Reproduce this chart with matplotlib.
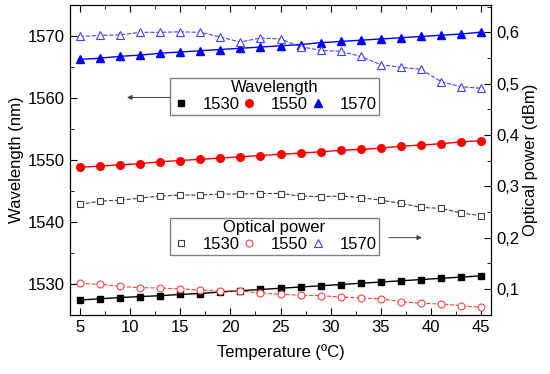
import numpy as np
import matplotlib
matplotlib.use('Agg')
import matplotlib.pyplot as plt
from matplotlib.lines import Line2D
from matplotlib.ticker import MultipleLocator, FuncFormatter

plt.rcParams['font.family'] = ['Liberation Sans', 'DejaVu Sans']
plt.rcParams['font.size'] = 12

temp = [5, 7, 9, 11, 13, 15, 17, 19, 21, 23, 25, 27, 29, 31, 33, 35, 37, 39, 41, 43, 45]

# wavelength (nm), left axis
wl_1530 = [1527.4, 1527.6, 1527.8, 1527.96, 1528.1, 1528.3, 1528.45, 1528.7, 1528.9, 1529.1, 1529.3,
           1529.5, 1529.7, 1529.9, 1530.1, 1530.3, 1530.5, 1530.7, 1530.9, 1531.1, 1531.3]
wl_1550 = [1548.8, 1549.0, 1549.2, 1549.4, 1549.7, 1549.9, 1550.1, 1550.3, 1550.5, 1550.7, 1550.9,
           1551.1, 1551.3, 1551.55, 1551.7, 1551.9, 1552.2, 1552.4, 1552.6, 1552.9, 1553.1]
wl_1570 = [1566.2, 1566.4, 1566.7, 1566.9, 1567.2, 1567.4, 1567.6, 1567.8, 1568.0, 1568.2, 1568.4,
           1568.6, 1568.9, 1569.1, 1569.3, 1569.5, 1569.7, 1569.9, 1570.1, 1570.3, 1570.6]

# optical power (dBm), right axis
op_1530 = [0.265, 0.271, 0.273, 0.277, 0.281, 0.283, 0.283, 0.285, 0.285, 0.286, 0.286,
           0.281, 0.280, 0.281, 0.278, 0.273, 0.267, 0.259, 0.257, 0.248, 0.243]
op_1550 = [0.111, 0.109, 0.105, 0.1025, 0.102, 0.100, 0.098, 0.096, 0.096, 0.092, 0.0897,
           0.088, 0.087, 0.0844, 0.0825, 0.081, 0.0753, 0.072, 0.0708, 0.0675, 0.0643]
op_1570 = [0.592, 0.594, 0.595, 0.600, 0.600, 0.601, 0.600, 0.591, 0.581, 0.589, 0.587,
           0.572, 0.565, 0.563, 0.553, 0.537, 0.532, 0.528, 0.504, 0.494, 0.491]

labels = ['1530', '1550', '1570']

fig = plt.figure(figsize=(5.5, 3.74), dpi=100)
ax = fig.add_axes([0.127, 0.158, 0.766, 0.829])
ax2 = ax.twinx()

ax.plot(temp, wl_1530, '-', color='black', lw=1, marker='s', ms=4.5, zorder=3)
ax.plot(temp, wl_1550, '-', color='red', lw=1, marker='o', ms=5.5, zorder=3)
ax.plot(temp, wl_1570, '-', color='blue', lw=1, marker='^', ms=6, zorder=3)

ax2.plot(temp, op_1530, '--', color='#404040', lw=0.8, marker='s', ms=4, mfc='white', mec='#404040', mew=0.8)
ax2.plot(temp, op_1550, '--', color='#ff4040', lw=0.8, marker='o', ms=5, mfc='white', mec='#ff4040', mew=0.8)
ax2.plot(temp, op_1570, '--', color='#4040ff', lw=0.8, marker='^', ms=6, mfc='white', mec='#4040ff', mew=0.8)

ax.set_xlim(4, 46)
ax.set_ylim(1525, 1575)
ax2.set_ylim(0.0495, 0.6535)

ax.xaxis.set_major_locator(MultipleLocator(5))
ax.xaxis.set_minor_locator(MultipleLocator(2.5))
ax.yaxis.set_major_locator(MultipleLocator(10))
ax.yaxis.set_minor_locator(MultipleLocator(5))
ax2.yaxis.set_major_locator(MultipleLocator(0.1))
ax2.yaxis.set_minor_locator(MultipleLocator(0.05))
ax2.yaxis.set_major_formatter(FuncFormatter(lambda v, p: ('%.1f' % v).replace('.', ',')))

ax.tick_params(which='both', direction='in', top=True, labelsize=12)
ax.tick_params(which='major', length=5)
ax.tick_params(which='minor', length=3)
ax2.tick_params(which='both', direction='in', labelsize=12)
ax2.tick_params(which='major', length=5)
ax2.tick_params(which='minor', length=3)

ax.set_xlabel('Temperature (ºC)', fontsize=12, labelpad=7)
ax.set_ylabel('Wavelength (nm)', fontsize=12, labelpad=3)
ax2.set_ylabel('Optical power (dBm)', fontsize=12, labelpad=3)

h_wl = [Line2D([], [], ls='none', marker='s', color='black', ms=4.5),
        Line2D([], [], ls='none', marker='o', color='red', ms=5.5),
        Line2D([], [], ls='none', marker='^', color='blue', ms=6)]
h_op = [Line2D([], [], ls='none', marker='s', mfc='white', mec='#404040', ms=4, mew=0.8),
        Line2D([], [], ls='none', marker='o', mfc='white', mec='#ff4040', ms=5, mew=0.8),
        Line2D([], [], ls='none', marker='^', mfc='white', mec='#4040ff', ms=6, mew=0.8)]

leg_kw = dict(ncol=3, loc='upper left', mode='expand', borderaxespad=0,
              frameon=True, fancybox=False, edgecolor='#808080', framealpha=1,
              handlelength=1.0, handletextpad=0.8, columnspacing=1.0,
              borderpad=0.15, fontsize=12, title_fontsize=12, labelspacing=0.1)
leg1 = ax2.legend(h_wl, labels, title='Wavelength',
                  bbox_to_anchor=(0.2375, 0.6345, 0.4965, 0.13), **leg_kw)
leg1.get_frame().set_linewidth(1)
ax2.add_artist(leg1)
leg2 = ax2.legend(h_op, labels, title='Optical power',
                  bbox_to_anchor=(0.2375, 0.183, 0.4965, 0.13), **leg_kw)
leg2.get_frame().set_linewidth(1)

ax.annotate('', xy=(9.7, 1560.07), xytext=(14.0, 1560.07),
            arrowprops=dict(arrowstyle='-|>', color='#404040', lw=0.7, mutation_scale=7,
                            shrinkA=0, shrinkB=0))
ax2.annotate('', xy=(39.1, 0.2), xytext=(35.8, 0.2),
             arrowprops=dict(arrowstyle='-|>', color='#404040', lw=0.7, mutation_scale=7,
                             shrinkA=0, shrinkB=0))

fig.savefig('out.png', dpi=100)
